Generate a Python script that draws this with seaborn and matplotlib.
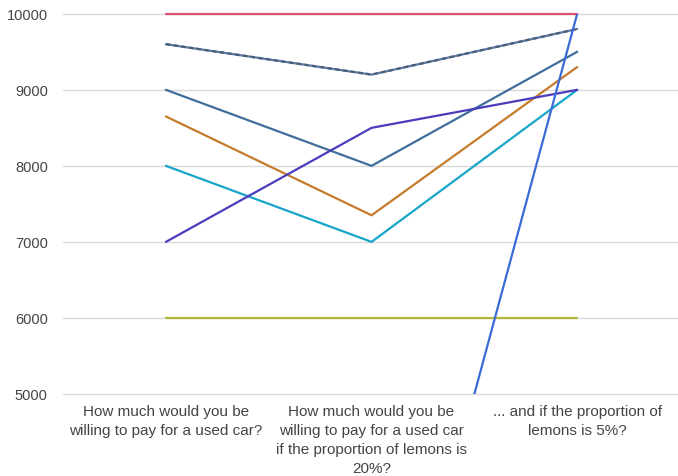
import matplotlib
matplotlib.use("Agg")
import matplotlib.pyplot as plt
import seaborn as sns
import pandas as pd

# Data
questions = ["How much would you be\nwilling to pay for a used car?",
             "How much would you be\nwilling to pay for a used car\nif the proportion of lemons is\n20%?",
             "... and if the proportion of\nlemons is 5%?"]
red = [10000, 10000, 10000]
gray = [9600, 9200, 9800]
steel = [9000, 8000, 9500]
orange = [8650, 7350, 9300]
cyan = [8000, 7000, 9000]
purple = [7000, 8500, 9000]
olive = [6000, 6000, 6000]
blue = [0, 0, 10000]

series = [
    (red, "#e0506f"),
    (gray, "#5a7aa6"),
    (steel, "#3f6e9c"),
    (orange, "#c57b2c"),
    (cyan, "#17a5c8"),
    (purple, "#4a3dbd"),
    (olive, "#b3b53a"),
]

sns.set_style("white")
plt.rcParams['font.family'] = ['Liberation Sans', 'DejaVu Sans']

fig = plt.figure(figsize=(6.78, 4.77), dpi=100)
ax = fig.add_axes([0.093, 0.172, 0.91, 0.797])

for vals, col in series:
    sns.lineplot(x=questions, y=vals, color=col, linewidth=1.6, sort=False, ax=ax, clip_on=False)
# dashed overlay on the gray line
sns.lineplot(x=questions, y=gray, color="#4c5d74", linewidth=1.6, sort=False, ax=ax,
             linestyle=(0, (2, 1.5)), clip_on=False)
sns.lineplot(x=questions, y=blue, color="#3b6bd6", linewidth=1.6, sort=False, ax=ax)

ax.set_ylim(5000, 10000)
ax.set_xlim(-0.5, 2.5)
ax.set_yticks([5000, 6000, 7000, 8000, 9000, 10000])
ax.grid(axis='y', color="#d9d9d9", linewidth=1)
for gl in ax.get_ygridlines():
    gl.set_clip_on(False)
ax.set_axisbelow(True)
for s in ax.spines.values():
    s.set_visible(False)
ax.tick_params(axis='both', length=0, labelcolor="#444444")
ax.tick_params(axis='y', pad=11, labelsize=10.5)
ax.tick_params(axis='x', pad=7, labelsize=11)
ax.set_xticks(range(3))
ax.set_xticklabels(questions, va='top', ha='center')
for lab in ax.get_xticklabels():
    lab.set_linespacing(1.45)
ax.set_xlabel("")
ax.set_ylabel("")

fig.savefig("out.png", dpi=100)
